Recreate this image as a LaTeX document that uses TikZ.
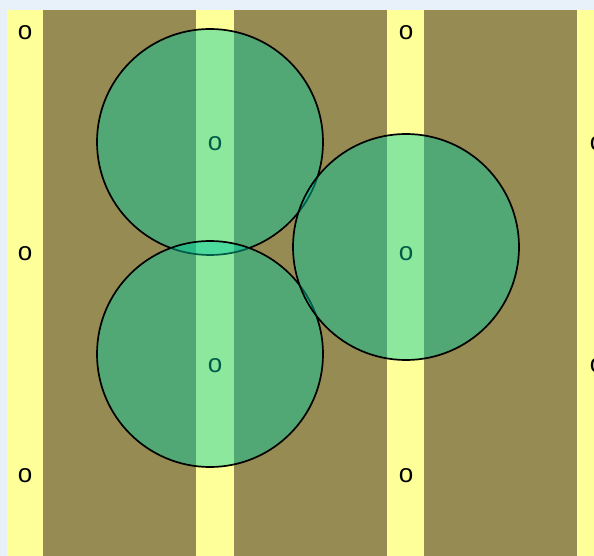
\documentclass[tikz,border=0pt]{standalone}
\usepackage{fontspec}
\setmainfont{Liberation Sans}
\definecolor{bgblue}{RGB}{232,240,250}
\definecolor{stripey}{RGB}{255,255,153}
\definecolor{olive}{RGB}{150,139,82}
\definecolor{circfill}{RGB}{0,204,160}
\tikzset{
  stripe/.style={fill=stripey, draw=none},
  mark o/.style={font=\fontsize{26}{26}\selectfont, text=black, inner sep=0pt, anchor=center},
  ball/.style={circle, draw=black, line width=1.7pt, fill=circfill, fill opacity=0.45, minimum size=226pt, inner sep=0pt}
}
\begin{document}
\begin{tikzpicture}[x=1pt,y=-1pt]
\useasboundingbox (0,0) rectangle (594,556);
\fill[bgblue] (0,0) rectangle (594,556);
\fill[olive] (7,10) rectangle (594,556);
\foreach \sx/\ex in {7/43,196/234,387/424,577/594}{
  \fill[stripey] (\sx,10) rectangle (\ex,556);
}
% text marks
\node[mark o] (t1) at (25,33) {o};
\node[mark o] (t2) at (25,254) {o};
\node[mark o] (t3) at (25,476) {o};
\node[mark o] (t4) at (215,144) {o};
\node[mark o] (t5) at (215,366) {o};
\node[mark o] (t6) at (406,33) {o};
\node[mark o] (t7) at (406,254) {o};
\node[mark o] (t8) at (406,476) {o};
\node[mark o] (t9) at (597,144) {o};
\node[mark o] (t10) at (597,366) {o};
% circles
\node[ball] (c1) at (210,142) {};
\node[ball] (c2) at (210,354) {};
\node[ball] (c3) at (406,247) {};
\end{tikzpicture}
\end{document}
